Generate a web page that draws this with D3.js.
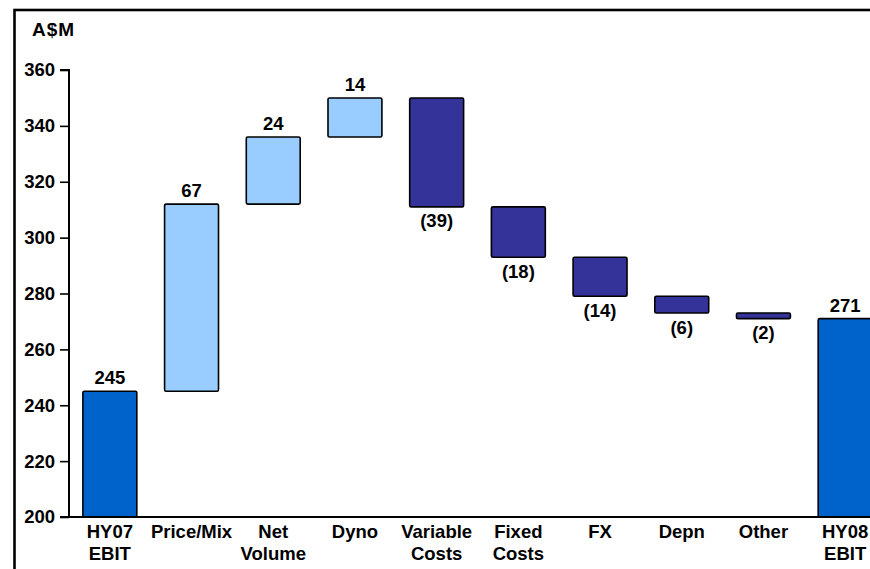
<!DOCTYPE html>
<html>
<head>
<meta charset="utf-8">
<script src="https://cdn.jsdelivr.net/npm/d3@7"></script>
<style>
  html, body { margin: 0; padding: 0; background: #fff; }
  svg { display: block; }
  text { font-family: Arial, "Liberation Sans", sans-serif; font-weight: bold; fill: #000; }
</style>
</head>
<body>
<script>
// EBIT bridge, HY07 to HY08 (A$M)
const categories = ["HY07\nEBIT", "Price/Mix", "Net\nVolume", "Dyno", "Variable\nCosts", "Fixed\nCosts", "FX", "Depn", "Other", "HY08\nEBIT"];
const kinds = ["total", "delta", "delta", "delta", "delta", "delta", "delta", "delta", "delta", "total"];
const values = [245, 67, 24, 14, -39, -18, -14, -6, -2, 271];
const yTicks = [200, 220, 240, 260, 280, 300, 320, 340, 360];
const yUnit = "A$M";

const W = 870, H = 569;
const FS = 18.5;
const svg = d3.select("body").append("svg").attr("width", W).attr("height", H);

const x0 = 69, yTop = 70, yBottom = 517;
const step = 81.7;

const x = d3.scaleBand()
  .domain(categories)
  .range([x0, x0 + step * categories.length])
  .paddingInner(0.34)
  .paddingOuter(0.17);

const y = d3.scaleLinear().domain([200, 360]).range([yBottom, yTop]);

// running totals for the floating bars
let running = 0;
const bars = categories.map((c, i) => {
  let lo, hi;
  if (kinds[i] === "total") {
    lo = 200; hi = values[i]; running = values[i];
  } else {
    const start = running;
    running = start + values[i];
    lo = Math.min(start, running); hi = Math.max(start, running);
  }
  return { cat: c, kind: kinds[i], v: values[i], lo, hi };
});

const fill = d => d.kind === "total" ? "#0063CC" : (d.v >= 0 ? "#99CCFF" : "#333399");

// outer frame
svg.append("rect")
  .attr("x", 14.5).attr("y", 10)
  .attr("width", W).attr("height", H)
  .attr("fill", "none").attr("stroke", "#000").attr("stroke-width", 2.6);

svg.selectAll("rect.bar")
  .data(bars)
  .enter().append("rect")
  .attr("class", "bar")
  .attr("x", d => x(d.cat))
  .attr("y", d => y(d.hi))
  .attr("width", x.bandwidth())
  .attr("height", d => y(d.lo) - y(d.hi))
  .attr("rx", 1.5)
  .attr("fill", fill)
  .attr("stroke", "#000")
  .attr("stroke-width", 1.6);

// value labels
svg.selectAll("text.val")
  .data(bars)
  .enter().append("text")
  .attr("class", "val")
  .attr("x", d => x(d.cat) + x.bandwidth() / 2)
  .attr("y", d => d.v >= 0 ? y(d.hi) - 7 : y(d.lo) + 20.5)
  .attr("text-anchor", "middle")
  .attr("font-size", FS)
  .text(d => d.v >= 0 ? d.v : "(" + Math.abs(d.v) + ")");

// y axis
const yAxis = d3.axisLeft(y).tickValues(yTicks).tickSize(9).tickPadding(5);
const gy = svg.append("g").attr("transform", `translate(${x0},0)`).call(yAxis);
gy.select(".domain").attr("stroke", "#000").attr("stroke-width", 2)
  .attr("d", `M-9,${yTop}H0V${yBottom}H-9`);
gy.selectAll(".tick line").attr("stroke", "#000").attr("stroke-width", 1.6);
gy.selectAll(".tick text")
  .attr("font-size", FS).attr("font-family", "Arial, 'Liberation Sans', sans-serif")
  .attr("font-weight", "bold").attr("fill", "#000");

// x axis baseline
svg.append("line")
  .attr("x1", x0).attr("x2", W)
  .attr("y1", yBottom).attr("y2", yBottom)
  .attr("stroke", "#000").attr("stroke-width", 2);

// category labels
const cl = svg.selectAll("text.cat")
  .data(categories)
  .enter().append("text")
  .attr("class", "cat")
  .attr("text-anchor", "middle")
  .attr("font-size", FS);
cl.each(function(c) {
  const lines = c.split("\n");
  const t = d3.select(this);
  lines.forEach((ln, k) => {
    t.append("tspan")
      .attr("x", x(c) + x.bandwidth() / 2)
      .attr("y", 538 + k * 22)
      .text(ln);
  });
});

// unit label
svg.append("text")
  .attr("x", 32).attr("y", 36)
  .attr("font-size", 19)
  .attr("letter-spacing", 1)
  .text(yUnit);
</script>
</body>
</html>
